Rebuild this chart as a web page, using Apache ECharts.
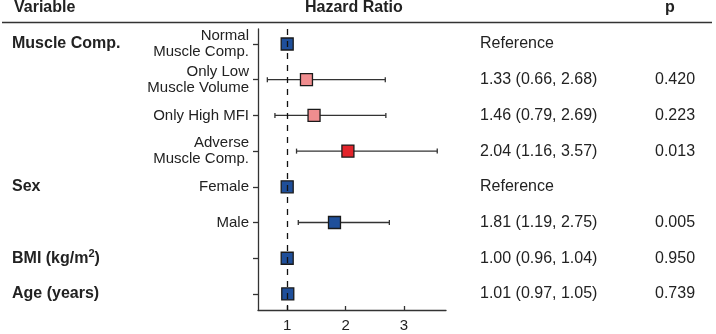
<!DOCTYPE html>
<html>
<head>
<meta charset="utf-8">
<script src="https://cdn.jsdelivr.net/npm/echarts@6/dist/echarts.min.js"></script>
<style>
html,body{margin:0;padding:0;background:#fff}
#main{width:716px;height:334px}
</style>
</head>
<body>
<div id="main"></div>
<script>
// rows, top to bottom
var groups = ['Muscle Comp.', '', '', '', 'Sex', '', 'BMI', 'Age (years)'];
var levels = ['Normal\nMuscle Comp.', 'Only Low\nMuscle Volume', 'Only High MFI', 'Adverse\nMuscle Comp.', 'Female', 'Male', '', ''];
var hr = [1, 1.33, 1.46, 2.04, 1, 1.81, 1.00, 1.01];
var lo = [null, 0.66, 0.79, 1.16, null, 1.19, 0.96, 0.97];
var hi = [null, 2.68, 2.69, 3.57, null, 2.75, 1.04, 1.05];
var pval = ['', '0.420', '0.223', '0.013', '', '0.005', '0.950', '0.739'];
var fills = ['#1f4f9a', '#f08d8f', '#f08d8f', '#e3242b', '#1f4f9a', '#1f4f9a', '#1f4f9a', '#1f4f9a'];
var xTicks = [1, 2, 3];

var rows = levels.map(function (v, i) { return i; });
var txt = '#222';
var font = '"Liberation Sans", Arial, sans-serif';

function hrText(i) {
    if (lo[i] == null) return 'Reference';
    return hr[i].toFixed(2) + ' (' + lo[i].toFixed(2) + ', ' + hi[i].toFixed(2) + ')';
}

var yBase = {
    type: 'value', inverse: true, min: -0.42, max: 7.45,
    splitLine: {show: false}
};

var chart = echarts.init(document.getElementById('main'));
chart.setOption({
    animation: false,
    textStyle: {fontFamily: font},
    grid: {left: 258, top: 29, width: 188, height: 281, outerBoundsMode: 'none'},
    graphic: [
        {type: 'text', left: 14, top: 0, style: {text: 'Variable', font: 'bold 16px ' + font, fill: txt}},
        {type: 'text', left: 305, top: 0, style: {text: 'Hazard Ratio', font: 'bold 16px ' + font, fill: txt}},
        {type: 'text', left: 665, top: 0, style: {text: 'p', font: 'bold 16px ' + font, fill: txt}},
        {type: 'line', shape: {x1: 2, y1: 22.5, x2: 712, y2: 22.5}, style: {stroke: '#333', lineWidth: 1.5}}
    ],
    xAxis: {
        type: 'value', min: 0.5, max: 3.72,
        splitLine: {show: false},
        axisLine: {onZero: false, lineStyle: {color: '#333', width: 1.3}},
        axisTick: {inside: true, length: 4, customValues: xTicks, lineStyle: {color: '#333', width: 1.3}},
        axisLabel: {customValues: xTicks, margin: 8, fontSize: 15, color: txt}
    },
    yAxis: [
        Object.assign({}, yBase, {
            position: 'left',
            axisLine: {show: true, onZero: false, lineStyle: {color: '#333', width: 1.3}},
            axisTick: {show: true, length: 5, customValues: rows, lineStyle: {color: '#333', width: 1.3}},
            axisLabel: {customValues: rows, margin: 9, fontSize: 15, lineHeight: 16, color: txt,
                formatter: function (v) { return levels[v] || ''; }}
        }),
        Object.assign({}, yBase, {
            position: 'left',
            axisLine: {show: false, onZero: false}, axisTick: {show: false},
            axisLabel: {customValues: [0, 4, 6, 7], margin: 246, align: 'left', fontSize: 16, fontWeight: 'bold', color: txt,
                formatter: function (v) { return v === 6 ? '{a|BMI (kg/m}{s|2}{a|)}' : groups[v]; },
                rich: {
                    a: {fontSize: 16, fontWeight: 'bold', color: txt},
                    s: {fontSize: 11, fontWeight: 'bold', color: txt, padding: [0, 0, 8, 0]}
                }}
        }),
        Object.assign({}, yBase, {
            position: 'right',
            axisLine: {show: false, onZero: false}, axisTick: {show: false},
            axisLabel: {customValues: rows, margin: 34, align: 'left', fontSize: 16, color: txt,
                formatter: function (v) { return hrText(v); }}
        }),
        Object.assign({}, yBase, {
            position: 'right',
            axisLine: {show: false, onZero: false}, axisTick: {show: false},
            axisLabel: {customValues: rows, margin: 209, align: 'left', fontSize: 16, color: txt,
                formatter: function (v) { return pval[v]; }}
        })
    ],
    series: [
        {
            type: 'custom',
            z: 2,
            data: rows.filter(function (i) { return lo[i] != null; }).map(function (i) { return [lo[i], hi[i], i]; }),
            renderItem: function (params, api) {
                var a = api.coord([api.value(0), api.value(2)]);
                var b = api.coord([api.value(1), api.value(2)]);
                var st = {stroke: '#333', lineWidth: 1.3};
                return {
                    type: 'group',
                    children: [
                        {type: 'line', shape: {x1: a[0], y1: a[1], x2: b[0], y2: b[1]}, style: st},
                        {type: 'line', shape: {x1: a[0], y1: a[1] - 2.5, x2: a[0], y2: a[1] + 2.5}, style: st},
                        {type: 'line', shape: {x1: b[0], y1: b[1] - 2.5, x2: b[0], y2: b[1] + 2.5}, style: st}
                    ]
                };
            },
            markLine: {
                silent: true, symbol: 'none', label: {show: false},
                lineStyle: {color: '#111', type: [6, 6], width: 1.3},
                data: [{xAxis: 1}]
            }
        },
        {
            type: 'scatter',
            z: 3,
            symbol: 'rect',
            symbolSize: 12,
            data: rows.map(function (i) {
                return {value: [hr[i], i], itemStyle: {color: fills[i]}};
            }),
            itemStyle: {borderColor: '#1a1a1a', borderWidth: 1.3, opacity: 1}
        }
    ]
});
</script>
</body>
</html>
